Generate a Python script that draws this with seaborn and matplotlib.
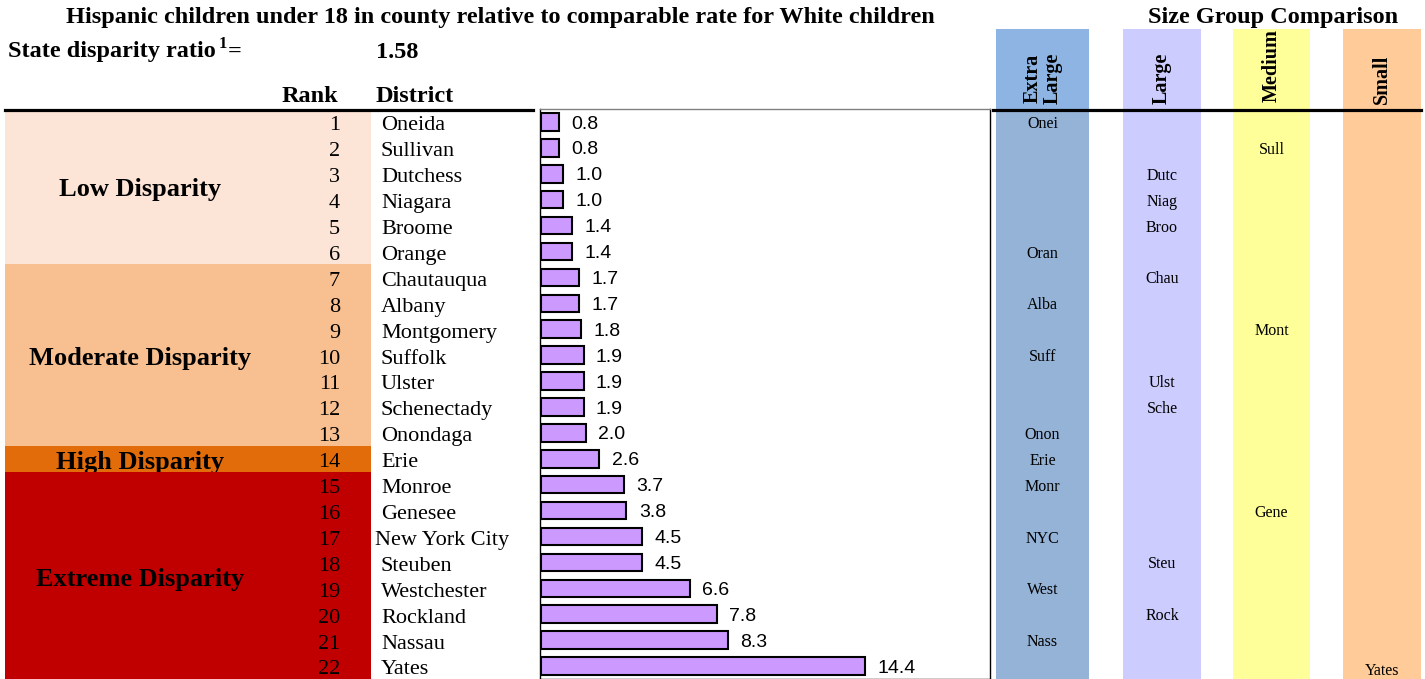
import seaborn as sns
import matplotlib.pyplot as plt
import matplotlib.transforms as mtrans
from matplotlib.patches import Rectangle
import pandas as pd

# data
ranks = list(range(1, 23))
districts = ["Oneida", "Sullivan", "Dutchess", "Niagara", "Broome", "Orange",
             "Chautauqua", "Albany", "Montgomery", "Suffolk", "Ulster", "Schenectady",
             "Onondaga", "Erie", "Monroe", "Genesee", "New York City", "Steuben",
             "Westchester", "Rockland", "Nassau", "Yates"]
ratios = [0.8, 0.8, 1.0, 1.0, 1.4, 1.4, 1.7, 1.7, 1.8, 1.9, 1.9, 1.9, 2.0, 2.6,
          3.7, 3.8, 4.5, 4.5, 6.6, 7.8, 8.3, 14.4]
size_group = ["Extra Large", "Medium", "Large", "Large", "Large", "Extra Large",
              "Large", "Extra Large", "Medium", "Extra Large", "Large", "Large",
              "Extra Large", "Extra Large", "Extra Large", "Medium", "Extra Large",
              "Large", "Extra Large", "Large", "Extra Large", "Small"]
abbrev = ["Onei", "Sull", "Dutc", "Niag", "Broo", "Oran", "Chau", "Alba", "Mont",
          "Suff", "Ulst", "Sche", "Onon", "Erie", "Monr", "Gene", "NYC", "Steu",
          "West", "Rock", "Nass", "Yates"]
band_names = ["Low Disparity", "Moderate Disparity", "High Disparity", "Extreme Disparity"]
band_first = [1, 7, 14, 15]
band_last = [6, 13, 14, 22]
state_ratio = 1.58

df = pd.DataFrame({"Rank": ranks, "District": districts, "Ratio": ratios,
                   "Group": size_group, "Abbr": abbrev})

band_colors = ["#FCE4D6", "#F8C090", "#E26B0A", "#C00000"]
band_text_y = [0.12, 0.12, 0.15, 0.15]   # small offsets in rows
group_cols = {"Extra Large": (996, 1089, "#8DB4E2", "#95B3D7"),
              "Large": (1123, 1201, "#CCCCFF", "#CCCCFF"),
              "Medium": (1233, 1310, "#FFFF99", "#FFFF99"),
              "Small": (1343, 1421, "#FFCC99", "#FFCC99")}
group_heads = {"Extra Large": "Extra\nLarge", "Large": "Large",
               "Medium": "Medium", "Small": "Small"}

serif = "Liberation Serif"
sans = "Liberation Sans"

W, H = 1425, 679
fig = plt.figure(figsize=(W / 100, H / 100), dpi=100)

# background axes in pixel coordinates
ax0 = fig.add_axes([0, 0, 1, 1])
ax0.set_xlim(0, W)
ax0.set_ylim(H, 0)
ax0.axis("off")

# bar axes
top, left, right = 109, 540, 990
ax = fig.add_axes([left / W, 0, (right - left) / W, (H - top) / H])
sns.barplot(data=df, x="Ratio", y="District", orient="h", color="#CC99FF",
            edgecolor="black", linewidth=1.5, width=0.68, saturation=1, ax=ax)
ax.set_xlim(-0.03, 19.92)
ax.set_xlabel("")
ax.set_ylabel("")
ax.set_xticks([])
ax.set_yticks([])
for s in ax.spines.values():
    s.set_linewidth(1)
ax.spines["top"].set_color("#808080")
for i, v in enumerate(ratios):
    ax.text(v + 0.55, i + 0.08, f"{v:.1f}", va="center", ha="left", fontsize=14,
            family=sans)

# x in pixels, y in row positions of the bar axes
tr = mtrans.blended_transform_factory(ax0.transData, ax.transData)

# disparity bands
for name, a, b, c, dy in zip(band_names, band_first, band_last, band_colors, band_text_y):
    rect = Rectangle((5, a - 1.5), 366, b - a + 1, transform=tr, facecolor=c,
                     edgecolor="none", zorder=1)
    ax0.add_patch(rect)
    t = ax0.text(140, (a + b) / 2 - 1 + dy, name, transform=tr, ha="center",
                 va="center", fontsize=19, fontweight="bold", family=serif, zorder=3)
    t.set_clip_path(rect)
    t.set_clip_on(True)

for i, (r, d) in enumerate(zip(ranks, districts)):
    ax0.text(340, i + 0.15, str(r), transform=tr, ha="right", va="center", fontsize=16,
             family=serif, zorder=3)
    x = 375 if len(d) > 12 else 381
    ax0.text(x, i + 0.15, d, transform=tr, ha="left", va="center", fontsize=16,
             family=serif, zorder=3)

# size group columns
for g, (x0, x1, head_c, body_c) in group_cols.items():
    ax0.add_patch(Rectangle((x0, 29), x1 - x0, 81, facecolor=head_c, edgecolor="none"))
    ax0.add_patch(Rectangle((x0, 110), x1 - x0, H - 110, facecolor=body_c, edgecolor="none"))
    if g == "Medium":
        ax0.text((x0 + x1) / 2, 29, group_heads[g], rotation=90, ha="center", va="top",
                 fontsize=14.5, fontweight="bold", family=serif, linespacing=1.0)
    else:
        ax0.text((x0 + x1) / 2, 104, group_heads[g], rotation=90, ha="center",
                 va="bottom", fontsize=14.5, fontweight="bold", family=serif,
                 linespacing=1.0, multialignment="center")
for i, (g, ab) in enumerate(zip(size_group, abbrev)):
    x0, x1 = group_cols[g][:2]
    dy = 0.2 if g == "Small" else 0.08
    ax0.text((x0 + x1) / 2, i + dy, ab, transform=tr, ha="center", va="center",
             fontsize=11.5, family=serif)

# header texts
ax0.text(500, 17, "Hispanic children under 18 in county relative to comparable rate for White children",
         ha="center", va="center", fontsize=17.5, fontweight="bold", family=serif)
ax0.text(1273, 17, "Size Group Comparison", ha="center", va="center", fontsize=17.5,
         fontweight="bold", family=serif)
ax0.text(8, 52, "State disparity ratio", ha="left", va="center",
         fontsize=17.5, fontweight="bold", family=serif)
ax0.text(219, 44, "1", ha="left", va="center", fontsize=12, fontweight="bold", family=serif)
ax0.text(228, 52, "=", ha="left", va="center", fontsize=17.5, fontweight="bold", family=serif)
ax0.text(376, 52, f"{state_ratio:.2f}", ha="left", va="center", fontsize=17.5,
         fontweight="bold", family=serif)
ax0.text(338, 97, "Rank", ha="right", va="center", fontsize=17.5, fontweight="bold",
         family=serif)
ax0.text(376, 97, "District", ha="left", va="center", fontsize=17.5, fontweight="bold",
         family=serif)
ax0.plot([5, 533], [110, 110], color="black", lw=2.3, zorder=5)
ax0.plot([993, 1421], [110, 110], color="black", lw=2.3, zorder=5)

fig.savefig("out.png", dpi=100)
